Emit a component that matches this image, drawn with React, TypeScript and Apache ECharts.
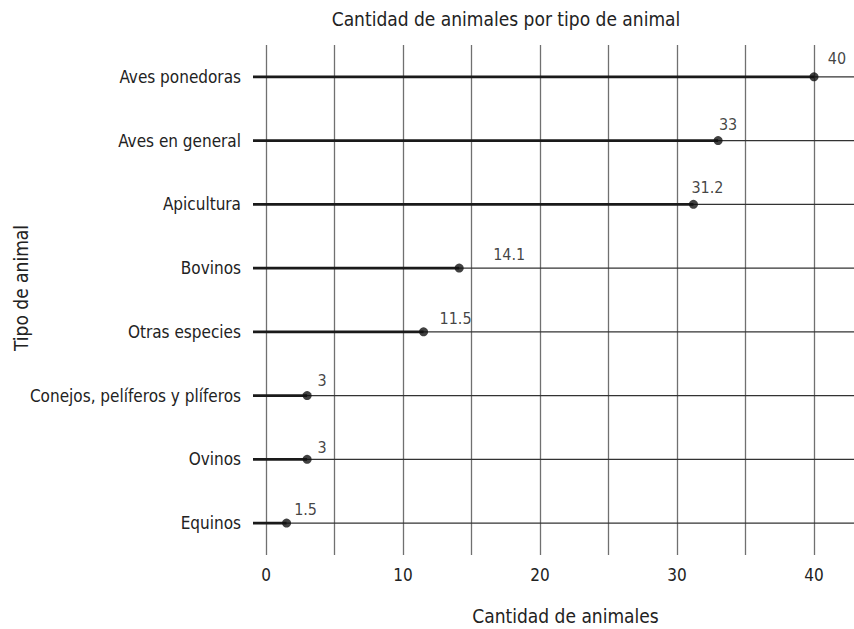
import React, { useEffect, useRef } from "react";
import * as echarts from "echarts";

const categories = [
  "Aves ponedoras",
  "Aves en general",
  "Apicultura",
  "Bovinos",
  "Otras especies",
  "Conejos, pelíferos y plíferos",
  "Ovinos",
  "Equinos",
];
const values = [40, 33, 31.2, 14.1, 11.5, 3, 3, 1.5];
const tickLabels = [0, 10, 20, 30, 40];
const gridValues = [0, 5, 10, 15, 20, 25, 30, 35, 40];

// label offsets (style) [dx, dy] relative to point
const labelOffsets: [number, number][] = [
  [23, -18],
  [10, -16],
  [14, -17],
  [50, -14],
  [32, -13],
  [15, -15],
  [15, -12],
  [19, -14],
];

const FONT = "'Liberation Sans Narrow', 'Arial Narrow', 'DejaVu Sans Condensed', sans-serif";
const X_MIN = -0.95;
const X_MAX = 42.92;

export default function App() {
  const ref = useRef<HTMLDivElement>(null);
  useEffect(() => {
    if (!ref.current) return;
    const chart = echarts.init(ref.current, undefined, { renderer: "svg" });
    const data = values.map((v, i) => [v, categories[i]]);
    chart.setOption({
      animation: false,
      backgroundColor: "#ffffff",
      textStyle: { fontFamily: FONT },
      title: {
        text: "Cantidad de animales por tipo de animal",
        left: 501,
        top: 4,
        textAlign: "center",
        textStyle: { fontFamily: FONT, fontSize: 19, fontWeight: "normal", color: "#222" },
      },
      grid: { left: 253, right: 0, top: 45, height: 510, outerBoundsMode: "none", containLabel: false },
      xAxis: {
        type: "value",
        min: X_MIN,
        max: X_MAX,
        name: "Cantidad de animales",
        nameLocation: "middle",
        nameGap: 51,
        nameMoveOverlap: false,
        nameTextStyle: { fontFamily: FONT, fontSize: 19, color: "#222", padding: [0, 0, 0, 24] },
        axisLine: { show: false },
        axisTick: { show: false },
        splitLine: { show: false },
        axisLabel: {
          customValues: tickLabels,
          margin: 11,
          fontFamily: FONT,
          fontSize: 17,
          color: "#222",
        },
      },
      yAxis: {
        type: "category",
        inverse: true,
        data: categories,
        boundaryGap: true,
        name: "Tipo de animal",
        nameLocation: "middle",
        nameGap: 223,
        nameRotate: 90,
        nameMoveOverlap: false,
        nameTextStyle: { fontFamily: FONT, fontSize: 19, color: "#222", padding: [0, 0, 0, 24] },
        axisLine: { show: false },
        axisTick: { show: false },
        splitLine: { show: false },
        axisLabel: { margin: 12, fontFamily: FONT, fontSize: 17, color: "#222" },
      },
      series: [
        {
          type: "custom",
          data,
          encode: { x: 0, y: 1 },
          z: 3,
          renderItem: (params: any, api: any) => {
            const cs = params.coordSys;
            const end = api.coord([api.value(0), api.value(1)]);
            const left = cs.x;
            const right = cs.x + cs.width;
            return {
              type: "group",
              children: [
                {
                  type: "line",
                  shape: { x1: left, y1: end[1], x2: right, y2: end[1] },
                  style: { stroke: "#333", lineWidth: 1.2 },
                },
                {
                  type: "line",
                  shape: { x1: left, y1: end[1], x2: end[0], y2: end[1] },
                  style: { stroke: "#1a1a1a", lineWidth: 2.6 },
                },
              ],
            };
          },
        },
        {
          type: "scatter",
          data: data.map((d, i) => ({
            value: d,
            label: {
              show: true,
              position: "inside",
              offset: labelOffsets[i],
              formatter: String(values[i]),
              fontFamily: FONT,
              fontSize: 16,
              color: "#111",
            },
          })),
          symbol: "circle",
          symbolSize: 9,
          itemStyle: { color: "#111" },
          z: 4,
          markLine: {
            silent: true,
            symbol: "none",
            label: { show: false },
            lineStyle: { color: "#707070", width: 1.3, type: "solid" },
            data: gridValues.map((v) => ({ xAxis: v })),
            z: 1,
          },
        },
      ],
    });
    return () => chart.dispose();
  }, []);
  return (
    <div
      ref={ref}
      style={{ position: "absolute", left: 0, top: 0, width: 854, height: 629, background: "#fff" }}
    />
  );
}
